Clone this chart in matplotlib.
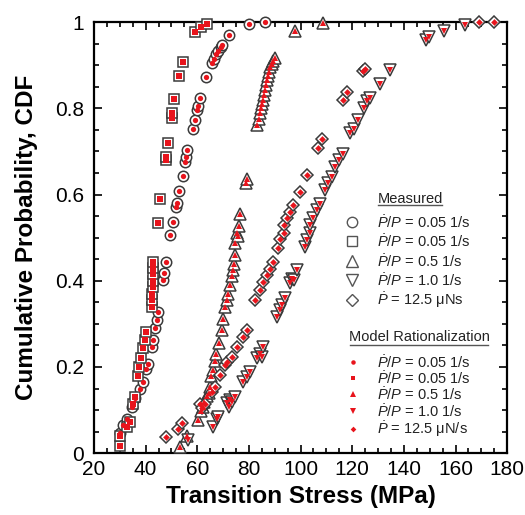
import matplotlib
matplotlib.use("Agg")
import matplotlib.pyplot as plt
from matplotlib.ticker import MultipleLocator

plt.rcParams['font.family'] = ['Liberation Sans', 'DejaVu Sans']
plt.rcParams['mathtext.fontset'] = 'custom'
plt.rcParams['mathtext.rm'] = 'Liberation Sans'
plt.rcParams['mathtext.it'] = 'Liberation Sans:italic'

circle_x = [30.1, 31.4, 32.7, 34.6, 35.9, 37.8, 39.1, 40.1, 41.0, 42.4, 43.0, 43.5, 44.3, 44.9,
            46.6, 47.1, 47.9, 49.5, 50.7, 51.8, 52.0, 52.8, 54.4, 55.3, 55.7, 56.2, 58.2, 59.1,
            59.8, 60.3, 61.1, 63.4, 65.6, 66.5, 67.3, 68.0, 69.0, 69.5, 72.4, 80.0, 86.3]
circle_y = [0.046, 0.065, 0.080, 0.107, 0.127, 0.149, 0.165, 0.195, 0.208, 0.246, 0.262, 0.290,
            0.309, 0.328, 0.401, 0.417, 0.444, 0.506, 0.537, 0.570, 0.580, 0.609, 0.643, 0.676,
            0.688, 0.703, 0.753, 0.773, 0.796, 0.805, 0.823, 0.873, 0.905, 0.915, 0.925, 0.933,
            0.942, 0.948, 0.970, 0.995, 1.000]

square_x = [30.0, 30.1, 32.7, 34.0, 35.3, 35.9, 37.2, 37.6, 38.2, 38.9, 39.6, 40.2, 42.4, 42.5,
            42.6, 42.7, 42.8, 42.9, 43.0, 43.0, 44.9, 45.6, 47.9, 47.9, 48.8, 50.1, 50.1, 51.0,
            53.1, 54.4, 59.3, 61.4, 63.9]
square_y = [0.017, 0.040, 0.060, 0.073, 0.115, 0.131, 0.180, 0.200, 0.220, 0.243, 0.262, 0.281,
            0.340, 0.355, 0.370, 0.385, 0.400, 0.415, 0.430, 0.444, 0.535, 0.589, 0.680, 0.687,
            0.719, 0.777, 0.789, 0.821, 0.876, 0.908, 0.978, 0.989, 0.995]

tri_up_x = [53.3, 55.9, 60.4, 61.5, 62.3, 62.8, 63.6, 64.4, 65.0, 65.5, 66.2, 66.8, 67.4, 68.6,
            69.5, 70.1, 70.8, 71.4, 72.0, 72.7, 73.3, 73.8, 74.2, 74.5, 74.7, 75.3, 75.9, 76.3,
            76.6, 78.9, 79.2, 83.1, 83.8, 84.2, 84.6, 85.0, 85.4, 85.8, 86.2, 86.6, 87.0, 87.4,
            87.8, 88.3, 88.8, 89.4, 90.2, 97.9, 108.6]
tri_up_y = [0.015, 0.040, 0.077, 0.097, 0.108, 0.118, 0.132, 0.140, 0.154, 0.178, 0.193, 0.215,
            0.230, 0.255, 0.285, 0.312, 0.340, 0.355, 0.370, 0.390, 0.410, 0.425, 0.440, 0.460,
            0.487, 0.510, 0.505, 0.527, 0.556, 0.626, 0.635, 0.761, 0.775, 0.790, 0.800, 0.810,
            0.820, 0.830, 0.843, 0.855, 0.865, 0.875, 0.885, 0.895, 0.903, 0.910, 0.916, 0.980,
            0.998]

tri_dn_x = [56.5, 66.2, 67.5, 68.2, 71.4, 72.1, 72.7, 73.4, 74.7, 77.9, 79.2, 80.5, 83.1, 84.3,
            85.0, 85.6, 90.8, 92.1, 92.8, 94.0, 96.0, 96.6, 97.3, 98.6, 101.8, 102.4, 103.7,
            103.7, 105.0, 106.3, 107.6, 109.5, 110.8, 112.1, 113.4, 114.7, 116.6, 119.2, 120.5,
            122.4, 124.4, 125.9, 127.0, 130.6, 134.5, 148.4, 149.6, 155.4, 163.8]
tri_dn_y = [0.030, 0.061, 0.080, 0.084, 0.116, 0.107, 0.123, 0.119, 0.131, 0.165, 0.177, 0.189,
            0.220, 0.231, 0.223, 0.247, 0.316, 0.332, 0.343, 0.359, 0.395, 0.405, 0.401, 0.425,
            0.479, 0.494, 0.510, 0.529, 0.545, 0.564, 0.579, 0.610, 0.626, 0.641, 0.664, 0.680,
            0.695, 0.742, 0.753, 0.773, 0.800, 0.817, 0.825, 0.856, 0.889, 0.958, 0.966, 0.980,
            0.993]

diamond_x = [47.9, 52.7, 54.0, 61.1, 61.7, 63.0, 65.6, 66.9, 68.8, 70.8, 71.7, 73.4, 75.3, 77.9,
             79.2, 82.4, 84.3, 85.6, 86.9, 88.2, 89.5, 91.4, 92.1, 93.4, 93.4, 94.7, 96.0, 97.2,
             99.8, 102.4, 106.9, 108.3, 116.4, 117.9, 124.1, 125.0, 169.0, 174.8]
diamond_y = [0.038, 0.057, 0.069, 0.115, 0.104, 0.115, 0.142, 0.154, 0.181, 0.204, 0.212, 0.223,
             0.247, 0.270, 0.285, 0.355, 0.378, 0.397, 0.413, 0.428, 0.444, 0.475, 0.498, 0.510,
             0.529, 0.545, 0.560, 0.575, 0.606, 0.645, 0.707, 0.730, 0.819, 0.838, 0.887, 0.892,
             1.000, 1.000]

# model rationalization sits on the measured points
model_circle_x, model_circle_y = circle_x, circle_y
model_square_x, model_square_y = square_x, square_y
model_tri_up_x, model_tri_up_y = tri_up_x, tri_up_y
model_tri_dn_x, model_tri_dn_y = tri_dn_x, tri_dn_y
model_diamond_x, model_diamond_y = diamond_x, diamond_y

measured_labels = [r"$\dot{P}/P$ = 0.05 1/s", r"$\dot{P}/P$ = 0.05 1/s", r"$\dot{P}/P$ = 0.5 1/s",
                   r"$\dot{P}/P$ = 1.0 1/s", r"$\dot{P}$ = 12.5 μNs"]
model_labels = [r"$\dot{P}/P$ = 0.05 1/s", r"$\dot{P}/P$ = 0.05 1/s", r"$\dot{P}/P$ = 0.5 1/s",
                r"$\dot{P}/P$ = 1.0 1/s", r"$\dot{P}$ = 12.5 μN/s"]

markers = ['o', 's', '^', 'v', 'D']
big_ms = [7.5, 7.5, 8.5, 8.5, 6.5]
small_ms = [3.8, 3.8, 4.6, 4.6, 3.4]
edge = '#3a3a3a'
red = '#e8141c'

fig = plt.figure(figsize=(5.25, 5.15), dpi=100)
ax = fig.add_axes([0.179, 0.120, 0.787, 0.837])

measured = [(circle_x, circle_y), (square_x, square_y), (tri_up_x, tri_up_y),
            (tri_dn_x, tri_dn_y), (diamond_x, diamond_y)]
model = [(model_circle_x, model_circle_y), (model_square_x, model_square_y),
         (model_tri_up_x, model_tri_up_y), (model_tri_dn_x, model_tri_dn_y),
         (model_diamond_x, model_diamond_y)]

for (x, y), m, ms in zip(measured, markers, big_ms):
    ax.plot(x, y, ls='none', marker=m, ms=ms, mfc='white', mec=edge, mew=1.1,
            clip_on=False, zorder=3)
for (x, y), m, ms in zip(model, markers, small_ms):
    ax.plot(x, y, ls='none', marker=m, ms=ms, mfc=red, mec=red, mew=0,
            clip_on=False, zorder=4)

ax.set_xlim(20, 180)
ax.set_ylim(0, 1)
ax.xaxis.set_major_locator(MultipleLocator(20))
ax.xaxis.set_minor_locator(MultipleLocator(5))
ax.yaxis.set_minor_locator(MultipleLocator(0.05))
ax.set_yticks([0, 0.2, 0.4, 0.6, 0.8, 1.0])
ax.set_yticklabels(['0', '0.2', '0.4', '0.6', '0.8', '1'])
ax.tick_params(which='both', direction='in', top=True, right=True, width=1.2, labelsize=15)
ax.tick_params(which='major', length=6, pad=5)
ax.tick_params(which='minor', length=3.5)
ax.tick_params(axis='y', pad=7)
for s in ax.spines.values():
    s.set_linewidth(1.6)

ax.set_xlabel('Transition Stress (MPa)', fontsize=17.5, fontweight='bold', labelpad=4)
ax.set_ylabel('Cumulative Probability, CDF', fontsize=17.5, fontweight='bold', labelpad=12)

# hand-made legend, positions in axes fractions
def to_ax(px, py):
    return (px - 94) / 413.0, (453 - py) / 431.0

tx, ty = to_ax(410, 199)
ax.text(tx, ty, 'Measured', transform=ax.transAxes, ha='center', va='center', fontsize=10.5,
        color='#222222')
x0, y0 = to_ax(378, 204.5)
x1, _ = to_ax(442, 204.5)
ax.plot([x0, x1], [y0, y0], transform=ax.transAxes, color='#555555', lw=1.0, clip_on=False)
for py, m, ms, lab in zip([222, 241, 261, 280, 300], markers, big_ms, measured_labels):
    mx, my = to_ax(352, py)
    ax.plot([mx], [my], transform=ax.transAxes, ls='none', marker=m, ms=ms, mfc='white',
            mec='#555555', mew=1.0, clip_on=False)
    lx, ly = to_ax(377, py)
    ax.text(lx, ly, lab, transform=ax.transAxes, ha='left', va='center', fontsize=10.5,
            color='#222222')

tx, ty = to_ax(419, 337)
ax.text(tx, ty, 'Model Rationalization', transform=ax.transAxes, ha='center', va='center',
        fontsize=10.5, color='#222222')
x0, y0 = to_ax(350, 345)
x1, _ = to_ax(488, 345)
ax.plot([x0, x1], [y0, y0], transform=ax.transAxes, color='#555555', lw=1.0, clip_on=False)
for py, m, ms, lab in zip([362, 378, 394, 411, 429], markers, small_ms, model_labels):
    mx, my = to_ax(353, py)
    ax.plot([mx], [my], transform=ax.transAxes, ls='none', marker=m, ms=ms * 0.85, mfc=red,
            mec=red, mew=0, clip_on=False)
    lx, ly = to_ax(377, py)
    ax.text(lx, ly, lab, transform=ax.transAxes, ha='left', va='center', fontsize=10.5,
            color='#222222')

fig.savefig('out.png', dpi=100)
